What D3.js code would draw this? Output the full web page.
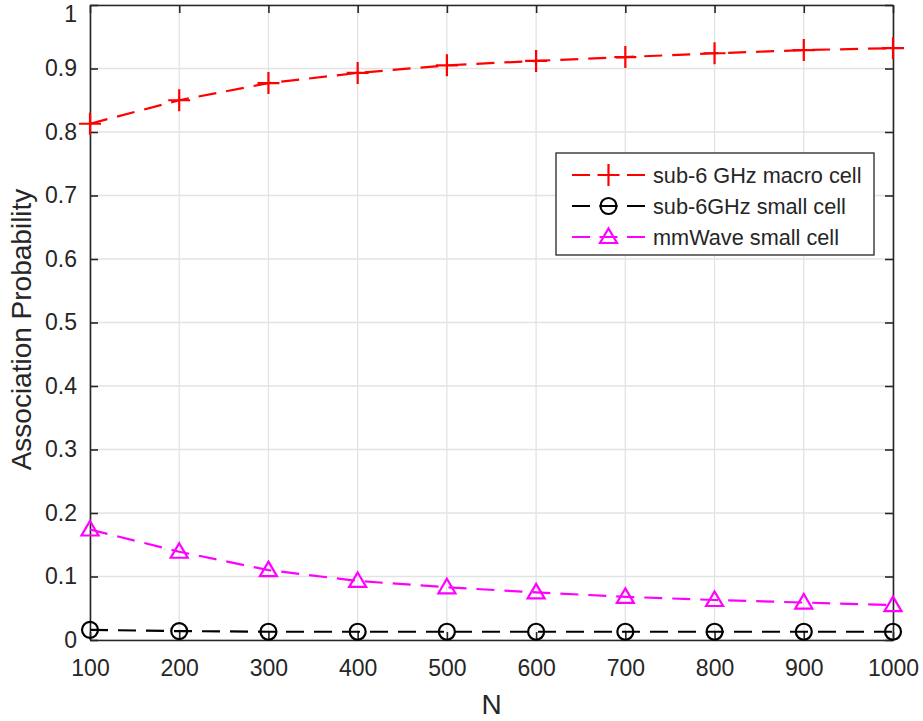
<!DOCTYPE html>
<html><head><meta charset="utf-8">
<script src="https://cdn.jsdelivr.net/npm/d3@7"></script>
<style>body{margin:0;background:#fff;} text{font-family:"Liberation Sans",Arial,sans-serif;fill:#262626;}</style>
</head><body><svg id="c" width="923" height="721"></svg>
<script>
const N = [100,200,300,400,500,600,700,800,900,1000];
const macro = [0.813,0.850,0.877,0.893,0.905,0.912,0.918,0.924,0.929,0.932];
const sub6small = [0.016,0.014,0.013,0.013,0.013,0.013,0.013,0.013,0.013,0.013];
const mmwave = [0.174,0.139,0.110,0.093,0.083,0.075,0.068,0.063,0.059,0.055];
const xTicks = [100,200,300,400,500,600,700,800,900,1000];
const yTicks = [0,0.1,0.2,0.3,0.4,0.5,0.6,0.7,0.8,0.9,1];
const seriesNames = ["sub-6 GHz macro cell","sub-6GHz small cell","mmWave small cell"];
const seriesColors = ["#ff0000","#000000","#ff00ff"];
const seriesMarkers = ["plus","circle","triangle"];
const seriesData = [macro, sub6small, mmwave];

const svg = d3.select("#c");
const L=90, R=893, T=5, B=640;
const x = d3.scaleLinear().domain([100,1000]).range([L,R]);
const y = d3.scaleLinear().domain([0,1]).range([B,T]);
const axisCol="#262626";

// grid
const g = svg.append("g");
g.selectAll(".gx").data(xTicks).join("line").attr("x1",d=>x(d)).attr("x2",d=>x(d)).attr("y1",T).attr("y2",B).attr("stroke","#e3e3e3").attr("stroke-width",1.3);
g.selectAll(".gy").data(yTicks).join("line").attr("x1",L).attr("x2",R).attr("y1",d=>y(d)).attr("y2",d=>y(d)).attr("stroke","#e3e3e3").attr("stroke-width",1.3);

// axes
const fmt = d=>String(+d.toFixed(1));
const ax = svg.append("g").attr("transform",`translate(0,${B})`).call(d3.axisBottom(x).tickValues(xTicks).tickSizeInner(-8).tickSizeOuter(0).tickPadding(20).tickFormat(d=>String(d)));
const axT = svg.append("g").attr("transform",`translate(0,${T})`).call(d3.axisTop(x).tickValues(xTicks).tickSizeInner(-8).tickSizeOuter(0).tickFormat(""));
const ay = svg.append("g").attr("transform",`translate(${L},0)`).call(d3.axisLeft(y).tickValues(yTicks).tickSizeInner(-8).tickSizeOuter(0).tickPadding(13).tickFormat(fmt));
const ayR = svg.append("g").attr("transform",`translate(${R},0)`).call(d3.axisRight(y).tickValues(yTicks).tickSizeInner(-8).tickSizeOuter(0).tickFormat(""));
[ax,axT,ay,ayR].forEach(a=>{
  a.select(".domain").attr("stroke",axisCol).attr("stroke-width",1.6);
  a.selectAll(".tick line").attr("stroke",axisCol).attr("stroke-width",1.6);
  a.selectAll("text").style("font-size","23px").attr("fill",axisCol);
});
ax.selectAll("text").attr("dy","0.71em");
ay.selectAll(".tick text").filter(d=>d===1).attr("dy","0.7em");

// lines
const line = d3.line().x((d,i)=>x(N[i])).y(d=>y(d));
const markerPath = (type)=>{
  if(type==="plus") return "M-11,0H11M0,-11V11";
  if(type==="circle") return d3.symbol(d3.symbolCircle, Math.PI*8*8)();
  return "M0,-8.5L8.5,6L-8.5,6Z";
};
seriesData.forEach((vals,k)=>{
  svg.append("path").datum(vals).attr("d",line).attr("fill","none").attr("stroke",seriesColors[k]).attr("stroke-width",2.2).attr("stroke-dasharray","18,10");
  svg.append("g").selectAll("path").data(vals).join("path")
    .attr("transform",(d,i)=>`translate(${x(N[i])},${y(d)})`)
    .attr("d",markerPath(seriesMarkers[k])).attr("fill","none").attr("stroke",seriesColors[k]).attr("stroke-width",2.2);
});

// labels
svg.append("text").attr("x",(L+R)/2).attr("y",714).attr("text-anchor","middle").style("font-size","28px").text("N");
svg.append("text").attr("transform",`translate(31,${(T+B)/2+7}) rotate(-90)`).attr("text-anchor","middle").style("font-size","28px").text("Association Probability");

// legend
const lg = svg.append("g");
lg.append("rect").attr("x",556).attr("y",153).attr("width",318).attr("height",102).attr("fill","#fff").attr("stroke",axisCol).attr("stroke-width",1.3);
const rowsY=[175,206,237];
seriesNames.forEach((nm,k)=>{
  const yy=rowsY[k];
  lg.append("line").attr("x1",572).attr("x2",645).attr("y1",yy).attr("y2",yy).attr("stroke",seriesColors[k]).attr("stroke-width",2.2).attr("stroke-dasharray","18,9.5");
  lg.append("path").attr("transform",`translate(608.5,${yy})`).attr("d",markerPath(seriesMarkers[k])).attr("fill","none").attr("stroke",seriesColors[k]).attr("stroke-width",2.2);
  lg.append("text").attr("x",653).attr("y",yy).attr("dy","0.35em").style("font-size","21.7px").text(nm);
});
</script></body></html>
